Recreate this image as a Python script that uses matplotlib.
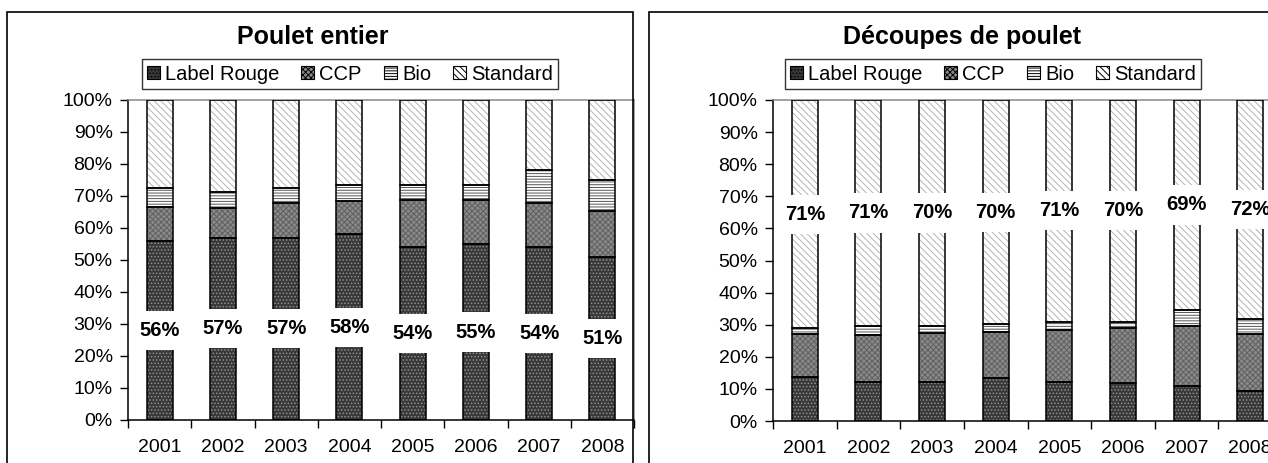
import numpy as np
import matplotlib.pyplot as plt
from matplotlib.patches import Patch, Rectangle
from matplotlib.ticker import FixedLocator

plt.rcParams['font.family'] = ['Liberation Sans', 'DejaVu Sans']
plt.rcParams['hatch.linewidth'] = 0.7

years = ['2001', '2002', '2003', '2004', '2005', '2006', '2007', '2008']
series = ['Label Rouge', 'CCP', 'Bio', 'Standard']

# Poulet entier (en % des volumes)
entier_lr = [56, 57, 57, 58, 54, 55, 54, 51]
entier_ccp = [10.7, 9.1, 10.9, 10.3, 14.8, 13.8, 13.9, 14.3]
entier_bio = [5.8, 5.3, 4.5, 5.1, 4.6, 4.6, 10.1, 9.7]
entier_labels = ['56%', '57%', '57%', '58%', '54%', '55%', '54%', '51%']

# Decoupes de poulet
decoupe_lr = [13.8, 12.2, 12.2, 13.3, 12.2, 11.7, 11.0, 9.3]
decoupe_ccp = [13.2, 14.6, 15.1, 14.5, 16.1, 17.2, 18.5, 17.7]
decoupe_bio = [1.9, 2.8, 2.3, 2.3, 2.6, 2.0, 5.1, 4.7]
decoupe_labels = ['71%', '71%', '70%', '70%', '71%', '70%', '69%', '72%']

styles = {
    'Label Rouge': dict(face='#383838', hatch='.....', hcol='#909090'),
    'CCP': dict(face='#8a8a8a', hatch='xxxxxx', hcol='#606060'),
    'Bio': dict(face='white', hatch='------', hcol='#555555'),
    'Standard': dict(face='white', hatch='\\\\\\\\\\', hcol='#b4b4b4'),
}

W, H = 1268, 463
fig = plt.figure(figsize=(W / 100, H / 100), dpi=100)


def draw_panel(rect, lr, ccp, bio, labels, label_series):
    ax = fig.add_axes(rect)
    x = np.arange(len(years))
    lr = np.array(lr)
    ccp = np.array(ccp)
    bio = np.array(bio)
    std = 100 - lr - ccp - bio
    vals = {'Label Rouge': lr, 'CCP': ccp, 'Bio': bio, 'Standard': std}
    bottom = np.zeros(len(years))
    bottoms = {}
    for s in series:
        st = styles[s]
        ax.bar(x, vals[s], 0.41, bottom=bottom, color=st['face'],
               hatch=st['hatch'], edgecolor=st['hcol'], linewidth=0, zorder=2)
        ax.bar(x, vals[s], 0.41, bottom=bottom, fill=False,
               edgecolor='black', linewidth=1.1, zorder=3)
        bottoms[s] = bottom.copy()
        bottom = bottom + vals[s]
    ypos = bottoms[label_series] + vals[label_series] / 2
    for xi, yi, t in zip(x, ypos, labels):
        ax.text(xi, yi, t, ha='center', va='center', fontsize=14.5,
                fontweight='bold', zorder=5,
                bbox=dict(boxstyle='square,pad=0.5', fc='white', ec='none'))

    ax.set_xlim(-0.5, len(years) - 0.5)
    ax.set_ylim(0, 100)
    ax.set_yticks(np.arange(0, 101, 10))
    ax.set_yticklabels([f'{v}%' for v in range(0, 101, 10)], fontsize=14)
    ax.set_xticks(x)
    ax.set_xticklabels(years, fontsize=14)
    ax.xaxis.set_minor_locator(FixedLocator(np.arange(-0.5, len(years), 1)))
    ax.tick_params(axis='x', which='major', length=0, pad=14)
    ax.tick_params(axis='x', which='minor', length=6, width=1, direction='out')
    ax.tick_params(axis='y', length=6, width=1, pad=5)
    for side in ['left', 'bottom']:
        ax.spines[side].set_color('black')
        ax.spines[side].set_linewidth(1.1)
    for side in ['top', 'right']:
        ax.spines[side].set_color('#888888')
        ax.spines[side].set_linewidth(1.1)
    return ax


ax1 = draw_panel([128 / W, 43 / H, 506 / W, 320 / H],
                 entier_lr, entier_ccp, entier_bio, entier_labels, 'Label Rouge')
ax2 = draw_panel([773 / W, 42 / H, 509 / W, 321 / H],
                 decoupe_lr, decoupe_ccp, decoupe_bio, decoupe_labels, 'Standard')

# panel frames
for x0, x1 in [(7, 633), (649, 1300)]:
    fig.patches.append(Rectangle((x0 / W, -0.1), (x1 - x0) / W, 1.1 - 12 / H,
                                 transform=fig.transFigure, fill=False,
                                 edgecolor='black', linewidth=1.2, zorder=10))

fig.text(313 / W, 1 - 37 / H, 'Poulet entier', ha='center', va='center',
         fontsize=18, fontweight='bold')
fig.text(962 / W, 1 - 37 / H, 'Découpes de poulet', ha='center', va='center',
         fontsize=18, fontweight='bold')

handles = [Patch(facecolor=styles[s]['face'], hatch=styles[s]['hatch'],
                 edgecolor='black', linewidth=0.8) for s in series]
for cx in [350, 993]:
    fig.legend(handles, series, loc='center', bbox_to_anchor=(cx / W, 1 - 74 / H),
               ncol=4, fontsize=14.5, frameon=True, fancybox=False,
               edgecolor='black', handlelength=0.65, handleheight=0.65,
               handletextpad=0.25, columnspacing=1.1, borderpad=0.25,
               borderaxespad=0)

fig.savefig('out.png', dpi=100)
